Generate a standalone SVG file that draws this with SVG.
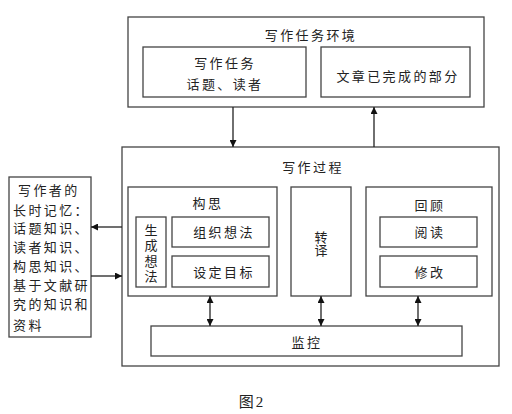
<svg xmlns="http://www.w3.org/2000/svg" width="512" height="414" viewBox="0 0 512 414">
<defs>
<marker id="ah" viewBox="0 0 10 10" refX="10" refY="5" markerWidth="7" markerHeight="7" markerUnits="userSpaceOnUse" orient="auto-start-reverse">
<path d="M0,0 L10,5 L0,10 z" fill="#111"/>
</marker>
<style>
rect{fill:#fff;stroke:#444;stroke-width:1.3}
text{font-family:"Noto Sans CJK SC","Noto Sans CJK TC",sans-serif;font-size:13px;fill:#222;letter-spacing:2.4px}
.c{text-anchor:middle}
.v{writing-mode:vertical-rl;text-anchor:middle}
.ln{stroke:#222;stroke-width:1.3;fill:none}
</style>
</defs>
<rect x="0" y="0" width="512" height="414" style="fill:#fff;stroke:none"/>
<g id="env">
<rect x="128" y="17" width="356" height="90"/>
<text class="c" x="311" y="40">写作任务环境</text>
</g>
<g id="task">
<rect x="143" y="47" width="163" height="50"/>
<text class="c" x="225" y="68">写作任务</text>
<text class="c" x="225" y="89">话题、读者</text>
</g>
<g id="done">
<rect x="321" y="47" width="149" height="50"/>
<text class="c" x="398" y="81">文章已完成的部分</text>
</g>
<g id="process">
<rect x="122" y="147" width="377" height="219"/>
<text class="c" x="313" y="172">写作过程</text>
</g>
<g id="plan">
<rect x="128" y="187" width="149" height="109"/>
<text class="c" x="208" y="208">构思</text>
</g>
<g id="gen">
<rect x="136" y="217" width="30" height="70"/>
<text class="v" x="151" y="254.5" style="letter-spacing:2.5px">生成想法</text>
</g>
<g id="org">
<rect x="172" y="217" width="97" height="30"/>
<text class="c" x="224" y="237">组织想法</text>
</g>
<g id="goal">
<rect x="172" y="256" width="97" height="31"/>
<text class="c" x="224" y="277">设定目标</text>
</g>
<g id="translate">
<rect x="291" y="187" width="60" height="109"/>
<text class="v" x="321" y="244" style="letter-spacing:0.5px">转译</text>
</g>
<g id="review">
<rect x="366" y="187" width="126" height="109"/>
<text class="c" x="430" y="210">回顾</text>
</g>
<g id="read">
<rect x="380" y="217" width="97" height="30"/>
<text class="c" x="430" y="237">阅读</text>
</g>
<g id="edit">
<rect x="380" y="256" width="97" height="31"/>
<text class="c" x="430" y="277">修改</text>
</g>
<g id="monitor">
<rect x="151" y="326" width="311" height="30"/>
<text class="c" x="307" y="347">监控</text>
</g>
<g id="memory">
<rect x="9" y="177" width="82" height="160"/>
<text x="18" y="195">写作者的</text>
<text x="13" y="215">长时记忆：</text>
<text x="13" y="233">话题知识、</text>
<text x="13" y="252">读者知识、</text>
<text x="13" y="271">构思知识、</text>
<text x="13" y="290">基于文献研</text>
<text x="13" y="309">究的知识和</text>
<text x="13" y="330">资料</text>
</g>
<text class="c" x="252" y="407" style="font-family:'Liberation Serif','Noto Sans CJK SC',serif;font-size:15px;letter-spacing:2px">图2</text>
<g id="connectors">
<line class="ln" x1="233" y1="107" x2="233" y2="147" marker-end="url(#ah)"/>
<line class="ln" x1="374" y1="147" x2="374" y2="107" marker-end="url(#ah)"/>
<line class="ln" x1="122" y1="227" x2="91" y2="227" marker-end="url(#ah)"/>
<line class="ln" x1="91" y1="276" x2="122" y2="276" marker-end="url(#ah)"/>
<line class="ln" x1="210" y1="296" x2="210" y2="326" marker-start="url(#ah)" marker-end="url(#ah)"/>
<line class="ln" x1="321" y1="296" x2="321" y2="326" marker-start="url(#ah)" marker-end="url(#ah)"/>
<line class="ln" x1="418" y1="296" x2="418" y2="326" marker-start="url(#ah)" marker-end="url(#ah)"/>
</g>
</svg>
